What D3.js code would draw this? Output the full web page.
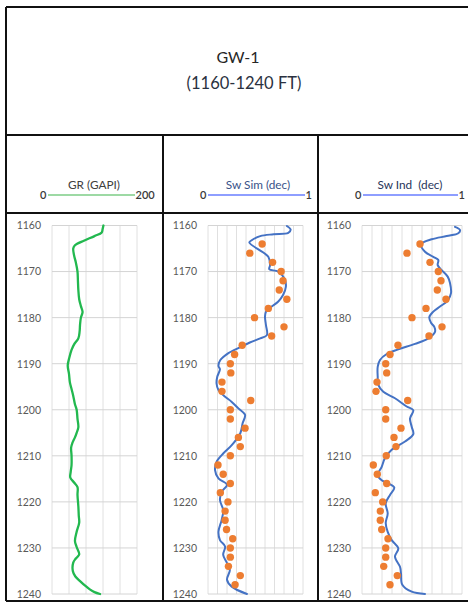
<!DOCTYPE html>
<html>
<head>
<meta charset="utf-8">
<script src="https://cdn.jsdelivr.net/npm/d3@7"></script>
<style>
  html, body { margin: 0; padding: 0; background: #fff; }
  svg { display: block; font-family: Lato, "Open Sans", sans-serif; }
</style>
</head>
<body>
<svg id="chart" width="468" height="602"></svg>
<script>
// ---- Well log data -------------------------------------------------------
const wellName = "GW-1";
const intervalLabel = "(1160-1240 FT)";
const depthDomain = [1160, 1240];
const depthTicks = [1160, 1170, 1180, 1190, 1200, 1210, 1220, 1230, 1240];

const grDomain = [0, 200];
const grGrid = [0, 40, 80, 120, 160, 200];
const swDomain = [0, 1];
const swGrid = [0, 0.1, 0.2, 0.3, 0.4, 0.5, 0.6, 0.7, 0.8, 0.9, 1];

// Gamma ray log: [depth ft, GAPI]
const grCurve = [
  [1160, 121], [1160.8, 119], [1161.5, 117], [1162.3, 100], [1163.3, 75],
  [1164.3, 54], [1165, 50], [1166.5, 52], [1168, 56], [1170, 60],
  [1172, 61], [1174, 62], [1176, 64], [1177.5, 68], [1178.8, 72],
  [1180, 68], [1181.5, 66], [1183, 65], [1184.5, 62], [1185.8, 52],
  [1187, 46], [1188.6, 41], [1190.4, 37], [1192.2, 40], [1194, 42],
  [1195.5, 46], [1197, 50], [1198.8, 54], [1200, 58], [1202, 60],
  [1203.8, 62], [1205, 58], [1206, 54], [1207.2, 48], [1208.2, 45],
  [1210, 46], [1212, 46], [1213.5, 44], [1214.7, 43], [1215.8, 52],
  [1216.8, 60], [1218.5, 60], [1221, 62], [1223, 63], [1224.5, 64],
  [1226.5, 58], [1228.5, 54], [1229.8, 58], [1231.4, 64], [1232.3, 56],
  [1233.2, 50], [1235, 49], [1236.2, 55], [1237.2, 66], [1238.2, 78],
  [1239, 89], [1239.6, 100], [1240, 113]
];

// Water saturation, Simandoux model: [depth ft, fraction]
const swSimCurve = [
  [1160.1, 0.83], [1160.9, 0.87], [1161.6, 0.845], [1161.9, 0.69], [1162.3, 0.55],
  [1163.2, 0.46], [1163.7, 0.435], [1166.8, 0.635], [1168.6, 0.653], [1169.5, 0.645],
  [1170.0, 0.74], [1171.8, 0.81], [1173.3, 0.82], [1175.1, 0.79], [1176.5, 0.74],
  [1177.6, 0.67], [1178.7, 0.61], [1179.8, 0.60], [1181.6, 0.61], [1183.8, 0.62],
  [1184.5, 0.55], [1185.4, 0.44], [1186.4, 0.34], [1187.7, 0.215], [1189.2, 0.13],
  [1190.5, 0.11], [1191.2, 0.126], [1192.8, 0.098], [1194.3, 0.09], [1195.7, 0.11],
  [1197.0, 0.17], [1198.3, 0.25], [1199.7, 0.32], [1201.1, 0.39], [1202.9, 0.365],
  [1205.1, 0.34], [1207.7, 0.25], [1209.5, 0.16], [1211.3, 0.09], [1213.1, 0.074],
  [1214.9, 0.11], [1216.3, 0.20], [1217.8, 0.144], [1219.6, 0.126], [1221.8, 0.16],
  [1223.9, 0.144], [1226.5, 0.11], [1228.3, 0.126], [1229.7, 0.18], [1231.5, 0.16],
  [1233.3, 0.20], [1234.8, 0.23], [1236.9, 0.20], [1238.4, 0.25], [1240, 0.41]
];

// Water saturation, Indonesian model: [depth ft, fraction]
const swIndCurve = [
  [1160.3, 0.93], [1161.0, 0.98], [1161.7, 0.963], [1162.3, 0.847], [1163.0, 0.697],
  [1164.1, 0.59], [1165.7, 0.63], [1166.8, 0.713], [1167.5, 0.763], [1168.6, 0.757],
  [1169.7, 0.797], [1171.1, 0.857], [1172.5, 0.88], [1174.7, 0.89], [1176.3, 0.857],
  [1177.6, 0.78], [1178.7, 0.713], [1179.9, 0.673], [1181.1, 0.69], [1182.0, 0.723],
  [1183.1, 0.73], [1184.5, 0.663], [1185.7, 0.53], [1186.9, 0.363], [1187.9, 0.247],
  [1189.2, 0.18], [1190.7, 0.157], [1192.8, 0.157], [1194.6, 0.163], [1196.1, 0.213],
  [1197.5, 0.33], [1199.3, 0.447], [1200.1, 0.513], [1201.9, 0.48], [1203.7, 0.497],
  [1205.3, 0.513], [1206.9, 0.43], [1208.7, 0.297], [1210.5, 0.23], [1212.4, 0.197],
  [1214.2, 0.157], [1215.3, 0.197], [1216.0, 0.263], [1216.9, 0.323], [1218.5, 0.28],
  [1220.3, 0.237], [1222.5, 0.257], [1224.6, 0.237], [1226.5, 0.257], [1228.3, 0.297],
  [1230.1, 0.363], [1231.9, 0.33], [1234.1, 0.38], [1235.5, 0.39], [1238.0, 0.403],
  [1239.5, 0.497], [1240, 0.63]
];

// Core measurements (every 2 ft)
const coreDepths = [
  1164, 1166, 1168, 1170, 1172, 1174, 1176, 1178, 1180, 1182,
  1184, 1186, 1188, 1190, 1192, 1194, 1196, 1198, 1200, 1202,
  1204, 1206, 1208, 1210, 1212, 1214, 1216, 1218, 1220, 1222,
  1224, 1226, 1228, 1230, 1232, 1234, 1236, 1238
];
const swSimCore = [
  0.57, 0.44, 0.68, 0.77, 0.79, 0.75, 0.83, 0.635, 0.49, 0.80,
  0.67, 0.36, 0.28, 0.235, 0.24, 0.147, 0.147, 0.45, 0.235, 0.235,
  0.39, 0.32, 0.34, 0.235, 0.105, 0.16, 0.235, 0.13, 0.21, 0.18,
  0.18, 0.195, 0.26, 0.235, 0.235, 0.215, 0.34, 0.285
];
const swIndCore = [
  0.58, 0.45, 0.68, 0.763, 0.79, 0.753, 0.84, 0.64, 0.50, 0.80,
  0.67, 0.36, 0.28, 0.237, 0.247, 0.15, 0.14, 0.457, 0.237, 0.237,
  0.39, 0.32, 0.34, 0.243, 0.113, 0.153, 0.247, 0.133, 0.207, 0.183,
  0.183, 0.197, 0.26, 0.237, 0.237, 0.217, 0.353, 0.28
];

// ---- Layout ---------------------------------------------------------------
const svg = d3.select("#chart");
const W = 468, H = 602;
const frame = { left: 6, top: 7, titleBottom: 135, headerBottom: 213, bottom: 601 };
const y = d3.scaleLinear().domain(depthDomain).range([225.5, 594]);

const tracks = [
  { label: "GR (GAPI)", left: "0", right: "200", domain: grDomain, grid: grGrid,
    x0: 52, x1: 137,
    legend: [48, 135], legendColor: "#3cb44b", labelColor: "#404040", labelX: 94,
    curve: grCurve, curveColor: "#22b84f", curveWidth: 2.3, core: null },
  { label: "Sw Sim (dec)", left: "0", right: "1", domain: swDomain, grid: swGrid,
    x0: 208, x1: 303,
    legend: [208, 305], legendColor: "#1f3fff", labelColor: "#3a5288", labelX: 258,
    curve: swSimCurve, curveColor: "#4472c4", curveWidth: 2, core: swSimCore },
  { label: "Sw Ind  (dec)", left: "0", right: "1", domain: swDomain, grid: swGrid,
    x0: 362, x1: 462,
    legend: [363, 458], legendColor: "#1f3fff", labelColor: "#28365a", labelX: 410,
    curve: swIndCurve, curveColor: "#4472c4", curveWidth: 2, core: swIndCore }
];

// ---- Title block ---------------------------------------------------------
svg.append("text").attr("x", 238).attr("y", 63).attr("text-anchor", "middle")
  .attr("font-size", 16).attr("fill", "#262626").text(wellName);
svg.append("text").attr("x", 244).attr("y", 89).attr("text-anchor", "middle")
  .attr("font-size", 16.5).attr("fill", "#2a3140").text(intervalLabel);

// ---- Tracks --------------------------------------------------------------
tracks.forEach(t => {
  const x = d3.scaleLinear().domain(t.domain).range([t.x0, t.x1]);
  const g = svg.append("g");

  // header legend: scale line with end values
  g.append("line").attr("x1", t.legend[0]).attr("x2", t.legend[1])
    .attr("y1", 195).attr("y2", 195).attr("stroke", t.legendColor).attr("stroke-width", 1.1);
  g.append("text").attr("x", t.legend[0] - 1.5).attr("y", 199).attr("text-anchor", "end")
    .attr("font-size", 11).attr("font-weight", 600).attr("fill", "#3a3a3a").text(t.left);
  g.append("text").attr("x", t.legend[1] + 0.5).attr("y", 199).attr("text-anchor", "start")
    .attr("font-size", 11).attr("font-weight", 600).attr("fill", "#3a3a3a").text(t.right);
  g.append("text").attr("x", t.labelX).attr("y", 189).attr("text-anchor", "middle")
    .attr("font-size", 11.8).attr("fill", t.labelColor).attr("xml:space", "preserve").text(t.label);

  // vertical grid
  g.append("g").selectAll("line").data(t.grid).join("line")
    .attr("x1", d => x(d)).attr("x2", d => x(d))
    .attr("y1", y.range()[0]).attr("y2", y.range()[1])
    .attr("stroke", "#e0e0e0").attr("stroke-width", 1);

  // horizontal depth grid
  g.append("g").selectAll("line").data(depthTicks).join("line")
    .attr("x1", t.x0).attr("x2", t.x1)
    .attr("y1", d => y(d)).attr("y2", d => y(d))
    .attr("stroke", "#d4d4d4").attr("stroke-width", 1);

  // depth axis labels
  const axis = d3.axisLeft(y).tickValues(depthTicks).tickSize(0).tickPadding(11)
    .tickFormat(d3.format("d"));
  const ag = g.append("g").attr("transform", `translate(${t.x0},0)`).call(axis);
  ag.select(".domain").remove();
  ag.selectAll("text").attr("font-size", 10.5).attr("fill", "#595959")
    .attr("font-family", "Lato, 'Open Sans', sans-serif");

  // log curve
  const line = d3.line().x(d => x(d[1])).y(d => y(d[0])).curve(d3.curveCatmullRom.alpha(0.5));
  g.append("path").datum(t.curve).attr("d", line).attr("fill", "none")
    .attr("stroke", t.curveColor).attr("stroke-width", t.curveWidth)
    .attr("stroke-linejoin", "round").attr("stroke-linecap", "round");

  // core points
  if (t.core) {
    g.append("g").selectAll("circle").data(t.core).join("circle")
      .attr("cx", d => x(d)).attr("cy", (d, i) => y(coreDepths[i])).attr("r", 3.7)
      .attr("fill", "#ed7d31");
  }
});

// ---- Frame lines -----------------------------------------------------------
const frameG = svg.append("g").attr("stroke", "#111").attr("stroke-width", 2).attr("fill", "none");
frameG.append("line").attr("x1", frame.left).attr("x2", W + 2).attr("y1", frame.top).attr("y2", frame.top);
frameG.append("line").attr("x1", frame.left).attr("x2", frame.left).attr("y1", frame.top).attr("y2", frame.bottom);
frameG.append("line").attr("x1", frame.left).attr("x2", W + 2).attr("y1", frame.titleBottom).attr("y2", frame.titleBottom);
frameG.append("line").attr("x1", frame.left).attr("x2", W + 2).attr("y1", frame.headerBottom).attr("y2", frame.headerBottom);
frameG.append("line").attr("x1", frame.left).attr("x2", W + 2).attr("y1", frame.bottom).attr("y2", frame.bottom);
[163, 318].forEach(cx => {
  frameG.append("line").attr("x1", cx).attr("x2", cx).attr("y1", frame.titleBottom).attr("y2", frame.bottom);
});
</script>
</body>
</html>
